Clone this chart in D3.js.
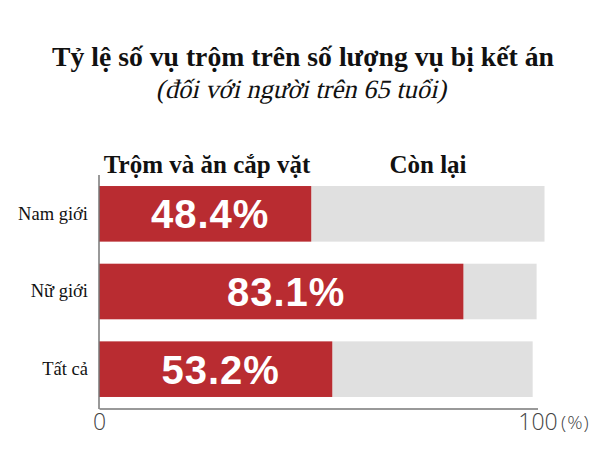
<!DOCTYPE html>
<html><head><meta charset="utf-8">
<script src="https://cdn.jsdelivr.net/npm/d3@7"></script>
<style>body{margin:0;background:#fff}svg{display:block}</style>
</head><body>
<svg id="c" width="600" height="450"></svg>
<script>
const categories = ["Nam giới", "Nữ giới", "Tất cả"];
const theftValues = [48.4, 83.1, 53.2];
const otherValues = [53.2, 16.7, 45.7];
const seriesNames = ["Trộm và ăn cắp vặt", "Còn lại"];
const xTicks = [0, 100];
const title = "Tỷ lệ số vụ trộm trên số lượng vụ bị kết án";
const subtitle = "(đối với người trên 65 tuổi)";

const rows = categories.map((c, i) => ({cat: c, theft: theftValues[i], other: otherValues[i]}));

const svg = d3.select("#c");
const serif = "'Liberation Serif','DejaVu Serif',serif";
const x = d3.scaleLinear().domain([0, 100]).range([99, 537.5]);
const y = d3.scaleBand().domain(categories).range([175, 408]).paddingInner(0.284).paddingOuter(0.142);

svg.append("text").attr("x", 303).attr("y", 66).attr("text-anchor", "middle")
  .style("font-family", serif).style("font-weight", "bold").style("font-size", "27.7px").attr("fill", "#111").text(title);
svg.append("text").attr("transform", "translate(301,98) skewX(-13)").attr("text-anchor", "middle")
  .style("font-family", serif).style("font-size", "26.5px").attr("fill", "#111").text(subtitle);

// gray remainder bars
svg.selectAll("rect.other").data(rows).join("rect").attr("class", "other")
  .attr("x", d => x(d.theft)).attr("y", d => y(d.cat))
  .attr("width", d => x(d.theft + d.other) - x(d.theft)).attr("height", y.bandwidth())
  .attr("fill", "#e0e0e0");
// red bars
svg.selectAll("rect.theft").data(rows).join("rect").attr("class", "theft")
  .attr("x", x(0)).attr("y", d => y(d.cat))
  .attr("width", d => x(d.theft) - x(0)).attr("height", y.bandwidth())
  .attr("fill", "#b92c31");
// value labels
svg.selectAll("text.val").data(rows).join("text").attr("class", "val")
  .attr("x", d => (x(0) + x(d.theft)) / 2 + 5).attr("y", d => y(d.cat) + y.bandwidth() / 2 + 14.5)
  .attr("text-anchor", "middle").attr("fill", "#fff")
  .style("font-family", "'Liberation Sans',Arial,sans-serif").style("font-weight", "bold").style("font-size", "40px")
  .style("letter-spacing", "1px")
  .text(d => d.theft.toFixed(1) + "%");

// legend labels
svg.append("text").attr("x", 207).attr("y", 173).attr("text-anchor", "middle")
  .style("font-family", serif).style("font-weight", "bold").style("font-size", "25px").attr("fill", "#111").text(seriesNames[0]);
svg.append("text").attr("x", 428).attr("y", 173).attr("text-anchor", "middle")
  .style("font-family", serif).style("font-weight", "bold").style("font-size", "25px").attr("fill", "#111").text(seriesNames[1]);

// category axis
const yAxis = svg.append("g").attr("transform", `translate(${x(0)},0)`)
  .call(d3.axisLeft(y).tickSize(0).tickPadding(11));
yAxis.select(".domain").attr("stroke", "#777").attr("stroke-width", 1.5).attr("d", `M0,175V409`);
yAxis.selectAll("text").style("font-family", serif).style("font-size", "18.5px").attr("fill", "#111");

// value axis
const xAxis = svg.append("g").attr("transform", "translate(0,408.5)")
  .call(d3.axisBottom(x).tickValues(xTicks).tickSize(0).tickPadding(5));
xAxis.select(".domain").attr("stroke", "#777").attr("stroke-width", 1.5);
xAxis.selectAll("text").style("font-family", "'Open Sans',sans-serif").style("font-weight", "300")
  .style("font-size", "23px").attr("fill", "#444");
svg.append("text").attr("x", 561).attr("y", 429).style("font-family", "'Open Sans',sans-serif").style("font-weight", "300")
  .style("font-size", "19px").style("letter-spacing", "1px").attr("fill", "#444").text("(%)");
</script>
</body></html>
